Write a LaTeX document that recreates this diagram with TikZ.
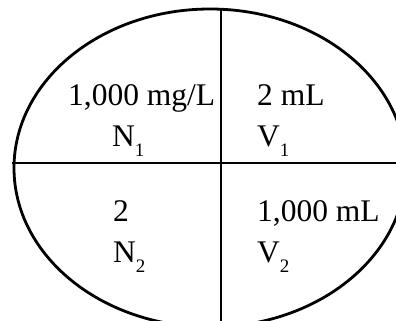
\documentclass[tikz,border=0pt]{standalone}
\usepackage{fontspec}
\setmainfont{Liberation Serif}
\usetikzlibrary{positioning}
\newcommand{\lowsub}[1]{\raisebox{-10pt}{\fontsize{19}{19}\selectfont #1}}

\begin{document}
\begin{tikzpicture}[
	x=1pt, y=1pt,
	border/.style={
		line width=2.8pt
	},
	quantity/.style={
		anchor=base west,
		inner sep=0pt,
		font=\fontsize{31.5}{36}\selectfont
	}
	]
	\useasboundingbox (0,0) rectangle (396,321);
	\clip (0,0) rectangle (396,321);
	
	% outline and cross
	\draw[border] (210,153) ellipse [x radius=196, y radius=159];
	\coordinate (west) at (12,158);
	\coordinate (east) at (396,158);
	\coordinate (top) at (221,312);
	\coordinate (bottom) at (221,0);
	\draw[border] (west) -- (east);
	\draw[border] (top) -- (bottom);
	
	% upper half
	\node (conc1) [quantity] at (68,215) {1,000 mg/L};
	\node (n1) [quantity] at (112,174) {N\lowsub{1}};
	\node (vol1) [quantity] at (257,215) {2 mL};
	\node (v1) [quantity] at (257,174) {V\lowsub{1}};
	
	% lower half
	\node (conc2) [quantity] at (113,99) {2};
	\node (n2) [quantity] at (113,58) {N\lowsub{2}};
	\node (vol2) [quantity] at (257,99) {1,000 mL};
	\node (v2) [quantity] at (257,58) {V\lowsub{2}};
	
\end{tikzpicture}
\end{document}
